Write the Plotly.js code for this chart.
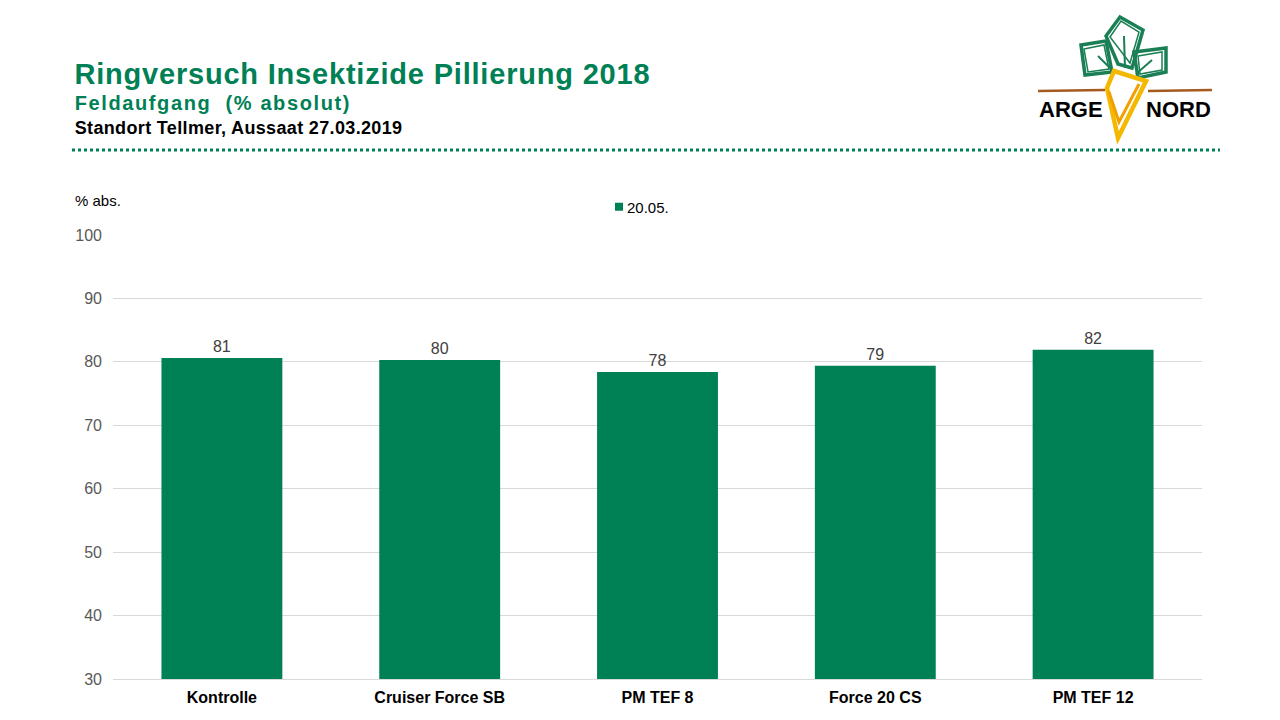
<!DOCTYPE html>
<html>
<head>
<meta charset="utf-8">
<script src="https://cdn.plot.ly/plotly-3.0.1.min.js"></script>
<style>html,body{margin:0;padding:0;background:#fff;}#chart{width:1280px;height:720px;}</style>
</head>
<body>
<div id="chart"></div>
<script>
const categories = ["Kontrolle", "Cruiser Force SB", "PM TEF 8", "Force 20 CS", "PM TEF 12"];
const values = [80.6, 80.3, 78.4, 79.4, 81.9];
const seriesName = "20.05.";
const yTicks = [30, 40, 50, 60, 70, 80, 90, 100];

const GREEN = "#008055";
const L = 113, R = 1202, T = 235, B = 679;
const px = x => (x - L) / (R - L);
const py = y => (B - y) / (B - T);
function path(pts, close) {
  return pts.map((p, i) => (i ? "L" : "M") + px(p[0]).toFixed(5) + "," + py(p[1]).toFixed(5)).join(" ") + (close ? " Z" : "");
}

const sans = "Liberation Sans, Arial, sans-serif";

const trace = {
  type: "bar",
  x: categories,
  y: values,
  name: seriesName,
  marker: {color: GREEN},
  texttemplate: "%{y:.0f}",
  textposition: "outside",
  textfont: {family: sans, size: 16, color: "#404040"},
  cliponaxis: false,
  showlegend: true
};

const leafColor = "#1a7f55";
const P = (pts, color, width, close) => ({type: "path", xref: "paper", yref: "paper", path: path(pts, close), line: {color: color, width: width}});
const shapes = [
  // dotted separator
  {type: "line", xref: "paper", yref: "paper", x0: px(72), x1: px(1220), y0: py(150), y1: py(150),
   line: {color: GREEN, width: 3, dash: "dot"}},
  // brown ground line
  P([[1038, 91], [1105, 90]], "#a65a1e", 2.5),
  P([[1148, 91], [1212, 90]], "#a65a1e", 2.5),
  // leaves
  P([[1081, 45], [1106, 41], [1112, 72], [1085, 75]], leafColor, 3.5, true),
  P([[1084, 49], [1104, 45], [1109, 69], [1088, 72]], leafColor, 1.5, true),
  P([[1106, 36], [1120, 17], [1143, 30], [1132, 68], [1118, 64]], leafColor, 3.5, true),
  P([[1110, 37], [1121, 21], [1139, 32], [1130, 63]], leafColor, 1.5, true),
  P([[1134, 52], [1166, 48], [1166, 72], [1138, 78]], leafColor, 3.5, true),
  P([[1138, 56], [1162, 52], [1162, 70], [1140, 74]], leafColor, 1.5, true),
  P([[1098, 56], [1114, 72]], leafColor, 2),
  P([[1124, 36], [1125, 68]], leafColor, 2),
  P([[1152, 60], [1136, 74]], leafColor, 2),
  // carrot
  P([[1114, 71], [1146, 81], [1118, 138], [1107, 88]], "#f5b800", 4.5, true),
  P([[1109, 92], [1119, 122], [1139, 84]], "#f0a000", 3)
];

const annotations = [
  {xref: "paper", yref: "paper", x: px(88), y: py(74), xanchor: "left", yanchor: "middle", showarrow: false,
   text: "<b>Ringversuch Insektizide Pillierung 2018</b>", font: {family: sans, size: 29, color: GREEN}},
  {xref: "paper", yref: "paper", x: px(92), y: py(103), xanchor: "left", yanchor: "middle", showarrow: false,
   text: "<b>Feldaufgang  (% absolut)</b>", font: {family: sans, size: 20, color: GREEN}},
  {xref: "paper", yref: "paper", x: px(79), y: py(128), xanchor: "left", yanchor: "middle", showarrow: false,
   text: "<b>Standort Tellmer, Aussaat 27.03.2019</b>", font: {family: sans, size: 18, color: "#000"}},
  {xref: "paper", yref: "paper", x: px(73), y: py(201), xanchor: "left", yanchor: "middle", showarrow: false,
   text: "% abs.", font: {family: sans, size: 15, color: "#000"}},
  {xref: "paper", yref: "paper", x: px(1037), y: py(109), xanchor: "left", yanchor: "middle", showarrow: false,
   text: "<b>ARGE</b>", font: {family: sans, size: 22, color: "#000"}},
  {xref: "paper", yref: "paper", x: px(1213), y: py(109), xanchor: "right", yanchor: "middle", showarrow: false,
   text: "<b>NORD</b>", font: {family: sans, size: 22, color: "#000"}}
];

const layout = {
  width: 1280, height: 720,
  margin: {l: L, r: 1280 - R, t: T, b: 720 - B, pad: 0},
  paper_bgcolor: "#fff", plot_bgcolor: "#fff",
  bargap: 0.445,
  xaxis: {
    type: "category",
    tickfont: {family: sans, size: 16, color: "#000", weight: "bold"},
    showline: true, linecolor: "#d9d9d9", linewidth: 1,
    ticks: "", showgrid: false, zeroline: false, fixedrange: true, ticklabelstandoff: 4
  },
  yaxis: {
    range: [30, 100],
    tickvals: yTicks,
    ticktext: yTicks.map(String),
    tickfont: {family: sans, size: 16, color: "#595959"},
    gridcolor: "#d9d9d9", gridwidth: 1,
    showline: false, zeroline: false, ticks: "", ticklabelstandoff: 10, fixedrange: true
  },
  legend: {
    orientation: "h", x: px(599), xanchor: "left", y: py(207), yanchor: "middle",
    font: {family: sans, size: 15, color: "#000"}, itemwidth: 30
  },
  shapes: shapes,
  annotations: annotations,
  showlegend: true
};

Plotly.newPlot("chart", [trace], layout, {displayModeBar: false, staticPlot: true}).then(function (gd) {
  const spacing = [0.8, 1.6, 0.35];
  const texts = gd.querySelectorAll(".annotation-text");
  for (let i = 0; i < 3 && i < texts.length; i++) {
    texts[i].style.letterSpacing = spacing[i] + "px";
  }
  gd.querySelectorAll(".legend .legendpoints path").forEach(function (p) {
    p.setAttribute("d", "M4,4H-4V-4H4Z");
  });
  gd.querySelectorAll(".legend .legendtext").forEach(function (t) {
    t.setAttribute("x", "28");
  });
});
</script>
</body>
</html>
